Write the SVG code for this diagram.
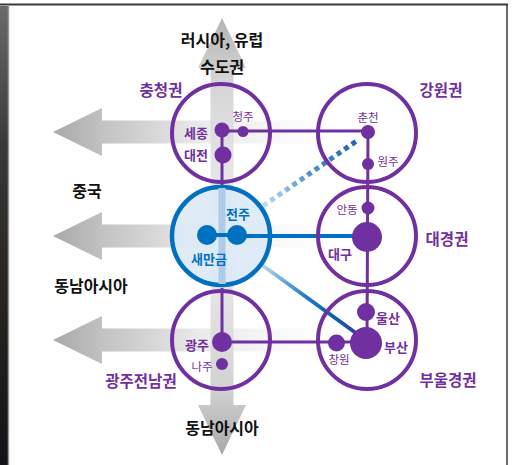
<svg xmlns="http://www.w3.org/2000/svg" width="512" height="465" viewBox="0 0 512 465">
<defs>
<linearGradient id="photo" x1="0" y1="0" x2="0" y2="1">
<stop offset="0" stop-color="#6a6a6a"/><stop offset="0.3" stop-color="#3a3a3a"/><stop offset="0.6" stop-color="#2a2620"/><stop offset="1" stop-color="#121418"/>
</linearGradient>
<linearGradient id="harrow" gradientUnits="userSpaceOnUse" x1="53" y1="0" x2="320" y2="0">
<stop offset="0" stop-color="#a9a9a9"/><stop offset="0.2" stop-color="#c4c4c4"/><stop offset="0.55" stop-color="#eaeaea"/><stop offset="1" stop-color="#ffffff"/>
</linearGradient>
<linearGradient id="varrow" gradientUnits="userSpaceOnUse" x1="0" y1="18" x2="0" y2="455">
<stop offset="0" stop-color="#b4b4b4"/><stop offset="0.15" stop-color="#d6d6d6"/><stop offset="0.5" stop-color="#f0f0f0"/><stop offset="0.85" stop-color="#d2d2d2"/><stop offset="1" stop-color="#a8a8a8"/>
</linearGradient>
<linearGradient id="dotg" gradientUnits="userSpaceOnUse" x1="263" y1="206" x2="360" y2="138">
<stop offset="0" stop-color="#c2dcf2"/><stop offset="0.5" stop-color="#4a8fd0"/><stop offset="1" stop-color="#1f5fb0"/>
</linearGradient>
<linearGradient id="diag" gradientUnits="userSpaceOnUse" x1="262" y1="265" x2="360" y2="336">
<stop offset="0" stop-color="#bcd9f0"/><stop offset="0.45" stop-color="#1f78c6"/><stop offset="0.75" stop-color="#0a5fb0"/><stop offset="1" stop-color="#3b3a9e"/>
</linearGradient>
<style>
.ring{fill:none;stroke:#7030a0;stroke-width:4}
.pl{stroke:#7030a0;stroke-width:3;fill:none}
.dot{fill:#7030a0}
.bdot{fill:#0070c0}
.k{font-family:"Noto Sans CJK KR","Noto Sans",sans-serif;font-weight:700;font-size:16px;fill:#111;text-anchor:middle}
.rg{font-family:"Noto Sans CJK KR","Noto Sans",sans-serif;font-weight:700;font-size:15.5px;fill:#7030a0;text-anchor:middle}
.nb{font-family:"Noto Sans CJK KR","Noto Sans",sans-serif;font-weight:700;font-size:13px;fill:#7030a0;text-anchor:middle}
.ns{font-family:"Noto Sans CJK KR","Noto Sans",sans-serif;font-weight:400;font-size:11.5px;fill:#7030a0;text-anchor:middle}
.bl{font-family:"Noto Sans CJK KR","Noto Sans",sans-serif;font-weight:700;font-size:13px;fill:#0070c0;text-anchor:middle}
</style>
</defs>
<rect x="0" y="0" width="512" height="465" fill="#ffffff"/>
<rect x="0" y="6" width="8" height="459" fill="url(#photo)"/>
<line x1="8.5" y1="6" x2="8.5" y2="465" stroke="#9a9a9a" stroke-width="1.5"/>
<line x1="0" y1="4.5" x2="508" y2="4.5" stroke="#3a3a3a" stroke-width="2"/>
<line x1="507" y1="4" x2="507" y2="465" stroke="#3a3a3a" stroke-width="1.5"/>

<g id="arrows">
<polygon points="53,132 102,108 102,120.5 320,120.5 320,143.5 102,143.5 102,156" fill="url(#harrow)"/>
<polygon points="53,236 102,212 102,224.5 320,224.5 320,247.5 102,247.5 102,260" fill="url(#harrow)"/>
<polygon points="53,340 102,316 102,328.5 320,328.5 320,351.5 102,351.5 102,364" fill="url(#harrow)"/>
<polygon points="222,18 246,68 233.5,68 233.5,405 246,405 222,455 198,405 210.5,405 210.5,68 198,68" fill="url(#varrow)"/>
</g>

<g id="connectors">
<line class="pl" x1="222" y1="130" x2="222" y2="185"/>
<line class="pl" x1="222" y1="131" x2="368" y2="131"/>
<line class="pl" x1="368" y1="131" x2="367" y2="343"/>
<line class="pl" x1="222" y1="288" x2="222" y2="342"/>
<line class="pl" x1="222" y1="342" x2="366" y2="342"/>
<line x1="237" y1="236" x2="367" y2="236" stroke="#0070c0" stroke-width="4"/>
<line x1="263" y1="206" x2="358" y2="140" stroke="url(#dotg)" stroke-width="5" stroke-dasharray="5 4"/>
<line x1="262" y1="265" x2="360" y2="336" stroke="url(#diag)" stroke-width="4"/>
</g>

<g id="chungcheong">
<circle class="ring" cx="221" cy="133" r="49"/>
<circle class="dot" cx="222" cy="130" r="7.5"/>
<circle class="dot" cx="243" cy="131.5" r="5.5"/>
<circle class="dot" cx="223" cy="155" r="8.5"/>
<text class="rg" x="161" y="96">충청권</text>
<text class="nb" x="196" y="138">세종</text>
<text class="nb" x="196" y="160">대전</text>
<text class="ns" x="243" y="121">청주</text>
</g>

<g id="gangwon">
<circle class="ring" cx="367" cy="133" r="49"/>
<circle class="dot" cx="368" cy="132" r="7"/>
<circle class="dot" cx="368" cy="164" r="6"/>
<text class="rg" x="441" y="96">강원권</text>
<text class="ns" x="368" y="122">춘천</text>
<text class="ns" x="388" y="166">원주</text>
</g>

<g id="jeonju">
<circle cx="221" cy="236" r="49" fill="#dce9f6" fill-opacity="0.9" stroke="#0070c0" stroke-width="4.5"/>
<rect x="218.5" y="188" width="7" height="96" fill="#aecbe8"/>
<line x1="207" y1="235" x2="237" y2="235" stroke="#0070c0" stroke-width="4"/>
<line x1="237" y1="236" x2="270" y2="236" stroke="#0070c0" stroke-width="4"/>
<circle class="bdot" cx="207" cy="235" r="10"/>
<circle class="bdot" cx="237" cy="235" r="10"/>
<text class="bl" x="238" y="219">전주</text>
<text class="bl" x="209" y="264">새만금</text>
</g>

<g id="daegyeong">
<circle class="ring" cx="367" cy="236" r="49"/>
<circle class="dot" cx="368" cy="208" r="6.5"/>
<circle class="dot" cx="367" cy="237" r="15"/>
<text class="rg" x="447" y="245">대경권</text>
<text class="ns" x="347" y="214">안동</text>
<text class="nb" x="340" y="259">대구</text>
</g>

<g id="gwangju">
<circle class="ring" cx="221" cy="340" r="49"/>
<circle class="dot" cx="222" cy="342" r="10"/>
<circle class="dot" cx="222" cy="364" r="6"/>
<text class="rg" x="141" y="387">광주전남권</text>
<text class="nb" x="197" y="350">광주</text>
<text class="ns" x="202" y="371">나주</text>
</g>

<g id="buulgyeong">
<circle class="ring" cx="367" cy="340" r="49"/>
<circle class="dot" cx="366" cy="312" r="9"/>
<circle class="dot" cx="336.5" cy="343" r="8.5"/>
<circle class="dot" cx="366" cy="343" r="16"/>
<text class="rg" x="448" y="386">부울경권</text>
<text class="nb" x="388" y="323">울산</text>
<text class="nb" x="396" y="352">부산</text>
<text class="ns" x="339" y="364">창원</text>
</g>

<g id="labels">
<text class="k" x="222" y="46">러시아, 유럽</text>
<text class="k" x="222" y="73">수도권</text>
<text class="k" x="87" y="197">중국</text>
<text class="k" x="91" y="292">동남아시아</text>
<text class="k" x="222" y="434">동남아시아</text>
</g>
</svg>
